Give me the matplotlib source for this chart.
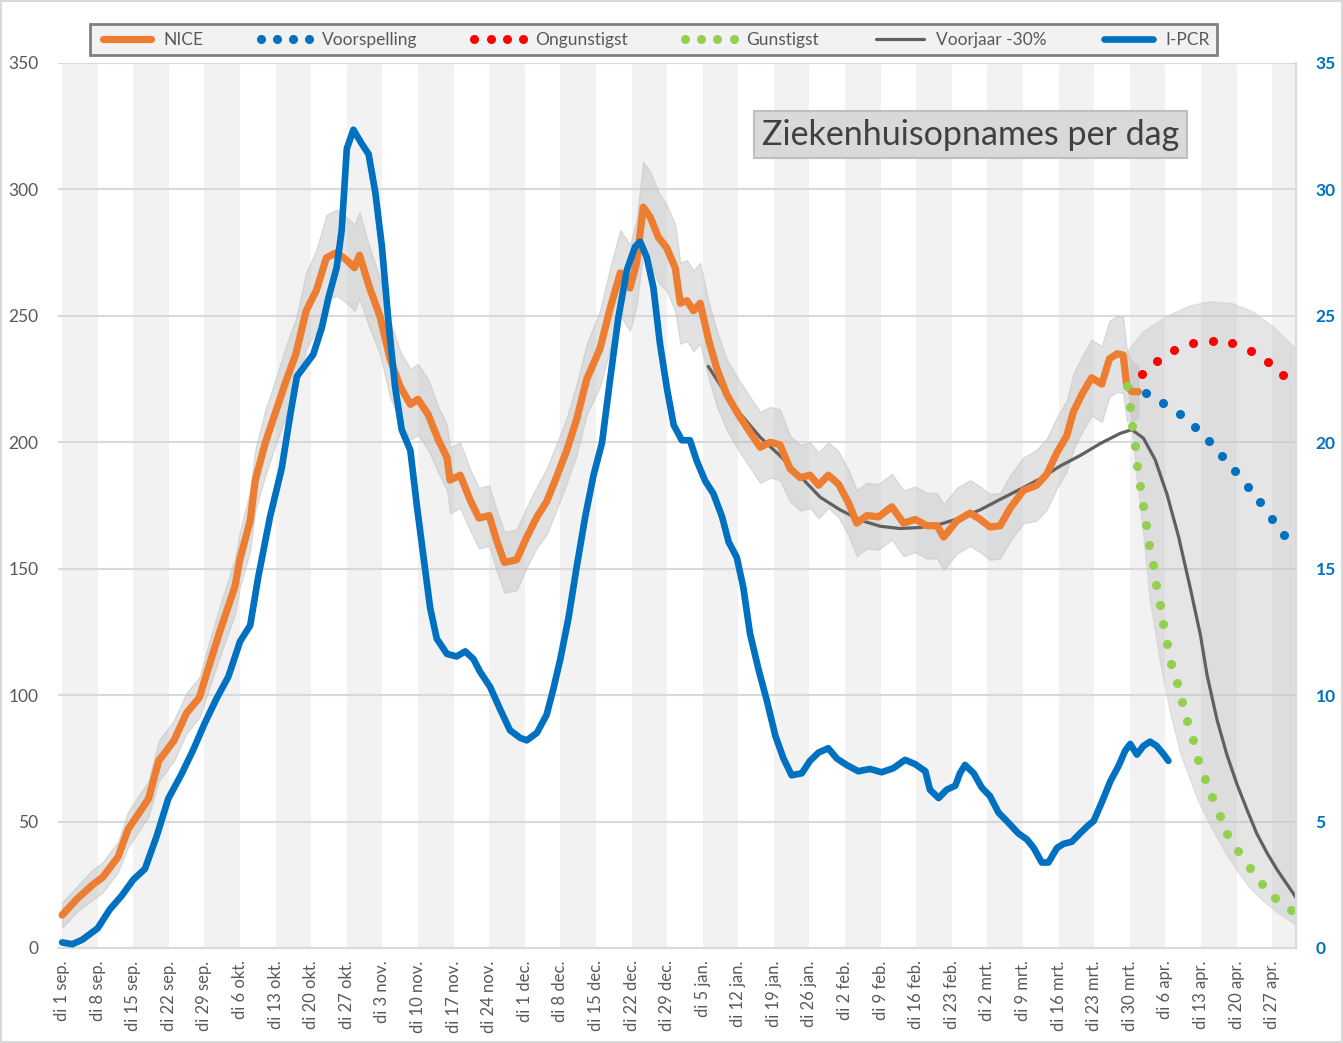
import matplotlib

matplotlib.use("Agg")
import matplotlib.pyplot as plt
from matplotlib.patches import Rectangle

plt.rcParams["font.family"] = ["Lato", "DejaVu Sans"]

# x = days since di 1 sep. 2020
week_labels = [
    "di 1 sep.", "di 8 sep.", "di 15 sep.", "di 22 sep.", "di 29 sep.",
    "di 6 okt.", "di 13 okt.", "di 20 okt.", "di 27 okt.", "di 3 nov.",
    "di 10 nov.", "di 17 nov.", "di 24 nov.", "di 1 dec.", "di 8 dec.",
    "di 15 dec.", "di 22 dec.", "di 29 dec.", "di 5 jan.", "di 12 jan.",
    "di 19 jan.", "di 26 jan.", "di 2 feb.", "di 9 feb.", "di 16 feb.",
    "di 23 feb.", "di 2 mrt.", "di 9 mrt.", "di 16 mrt.", "di 23 mrt.",
    "di 30 mrt.", "di 6 apr.", "di 13 apr.", "di 20 apr.", "di 27 apr.",
]

# NICE opnames per dag (linker as) + breedte van de grijze band
nice_day = [0, 3, 6, 8, 11, 13, 17, 19, 22, 24.5,
            27, 28.5, 31, 34, 35, 37, 38, 40, 42, 44,
            46, 48, 50, 52, 54, 56, 57.5, 58.5, 60.5, 62.5,
            64.5, 66.5, 68.5, 70, 72, 74, 75.7, 76.3, 78.3, 80.3,
            82, 84, 85.5, 87, 89.4, 91.4, 93.4, 95.3, 97.3, 99.3,
            101.2, 103.2, 105.8, 107.8, 109.8, 111.7, 113, 114.3, 115.7, 117.3,
            118.9, 120.6, 121.6, 122.9, 124.2, 125.5, 127.1, 128.8, 130.7, 133,
            135.3, 137.3, 139.3, 141.2, 143.2, 145.2, 147.1, 148.8, 150.7, 152.7,
            154.7, 156.3, 158.3, 160.6, 163.2, 165.5, 167.8, 170.1, 172.1, 173.4,
            176, 178.6, 180.6, 182.5, 184.5, 186.5, 189.1, 191.7, 193.7, 195.7,
            197.6, 198.9, 200.6, 202.5, 204.5, 206, 207.5, 208.7, 209.4, 210.4, 211.7]
nice_val = [13, 19.5, 25, 28, 36, 47, 59, 74, 82, 93,
            99, 109, 125, 143, 154, 169, 185, 200, 212, 224,
            235, 252, 260, 273, 275, 272, 269, 274, 261, 250,
            233, 222, 215, 217, 211, 201, 194, 185, 187, 177,
            170, 171, 161, 152.5, 153.5, 162.5, 170.5, 176.5, 186.5, 197,
            209, 225, 237, 253, 267, 261, 271, 293, 289, 281,
            277, 269, 255, 256, 252, 255, 241, 229, 219, 211,
            204, 198, 200, 199, 189.5, 186, 187, 183, 187, 183.5,
            176, 168, 171, 170.5, 174.5, 168, 169.5, 167, 167, 162.5,
            169, 172, 169.5, 166.5, 167, 174, 181, 183, 187.5, 196,
            202.5, 212, 219, 225.5, 223, 233, 235, 234.5, 222.5, 220, 220]
nice_hw = [5, 5, 6, 6, 6, 7, 7, 8, 8, 8,
           8, 9, 10, 11, 11, 12, 12, 13, 13, 14,
           14, 15, 16, 17, 17, 17, 17, 17, 16, 15,
           15, 14, 14, 14, 14, 13, 13, 13, 13, 12,
           12, 12, 12, 12, 12, 12, 12, 13, 13, 13,
           14, 14, 15, 16, 17, 17, 17, 18, 18, 18,
           17, 17, 16, 16, 16, 16, 15, 15, 14, 14,
           14, 14, 14, 14, 13, 13, 13, 13, 13, 13,
           13, 13, 13, 13, 13, 13, 13, 13, 13, 13,
           13, 13, 13, 13, 13, 13, 13, 14, 14, 14,
           14, 15, 15, 15, 15, 15, 15, 15, 14, 12, 10]

# I-PCR (rechter as)
pcr_day = [0, 2, 4, 7, 9.4, 11.7, 14, 16.3, 18.6, 20.9,
           23.5, 25.8, 28.1, 30.4, 32.7, 35, 37, 38.6, 40.9, 43.2,
           44.9, 46.2, 47.8, 49.4, 51.1, 52.4, 54, 55, 56, 57.3,
           58.9, 60.3, 61.6, 62.9, 64.2, 65.5, 66.8, 68.5, 69.8, 71.1,
           72.4, 73.7, 75.7, 77.6, 79.3, 80.9, 82.2, 84.2, 86.2, 88.1,
           90.1, 91.4, 93.4, 95.3, 96.6, 98, 99.6, 101.2, 102.9, 104.5,
           106.2, 107.8, 109.4, 111.1, 112.7, 113.7, 115, 116.3, 117.6, 119,
           120.3, 121.9, 123.5, 124.8, 126.5, 128.1, 129.8, 131.1, 132.7, 134,
           135.3, 137, 138.6, 140.3, 141.9, 143.5, 145.5, 147.1, 148.8, 150.7,
           152.4, 154.3, 156.6, 158.9, 161.2, 163.5, 165.8, 167.8, 169.8, 170.7,
           172.4, 174, 175.7, 176.6, 177.6, 179.3, 180.9, 182.5, 184.2, 186.2,
           188.1, 189.8, 191.1, 192.7, 194, 195.7, 197, 198.6, 200.2, 201.9,
           202.9, 204.5, 206.2, 207.8, 209.1, 210.1, 211.4, 212.7, 214, 215.3,
           216.7, 217.6]
pcr_val = [0.22, 0.15, 0.33, 0.78, 1.53, 2.06, 2.70, 3.13, 4.42, 5.91,
           6.88, 7.84, 8.91, 9.87, 10.73, 12.12, 12.76, 14.69, 17.05, 18.97,
           21.11, 22.61, 23.04, 23.47, 24.54, 25.72, 26.9, 28.39, 31.61, 32.36,
           31.82, 31.39, 29.89, 27.75, 24.75, 22.19, 20.5, 19.68, 17.46, 15.45,
           13.44, 12.23, 11.63, 11.53, 11.73, 11.43, 10.93, 10.32, 9.42, 8.61,
           8.31, 8.21, 8.51, 9.22, 10.22, 11.43, 13.04, 15.05, 17.06, 18.67,
           19.98, 22.5, 24.91, 26.82, 27.73, 27.93, 27.32, 26.12, 23.9, 22.09,
           20.68, 20.08, 20.08, 19.28, 18.47, 17.97, 17.06, 16.06, 15.45, 14.25,
           12.44, 11.0, 9.8, 8.39, 7.49, 6.83, 6.91, 7.4, 7.73, 7.9,
           7.49, 7.24, 6.99, 7.08, 6.95, 7.11, 7.44, 7.27, 6.99, 6.26,
           5.93, 6.26, 6.42, 6.91, 7.24, 6.91, 6.34, 6.01, 5.35, 4.94,
           4.53, 4.29, 3.96, 3.38, 3.38, 3.96, 4.12, 4.2, 4.53, 4.86,
           5.02, 5.76, 6.6, 7.2, 7.8, 8.07, 7.65, 7.99, 8.16, 7.99,
           7.65, 7.4]

# Voorjaar -30%
vj_day = [127.1, 130, 133.5, 137.3, 141.2, 145.2, 149.1, 153.0, 157.0, 160.9,
          164.8, 168.8, 172.7, 176.6, 180.6, 184.5, 188.5, 192.4, 196.3, 200.2,
          204.2, 208.1, 210.4, 212.7, 215.0, 217.3, 219.6, 221.9, 223.9, 225.2,
          227.2, 229.1, 231.1, 233.1, 235.0, 237.0, 239.0, 241.0, 242.7]
vj_val = [230, 221, 211, 202, 194.7, 186.5, 178.3, 173.3, 169.2, 166.8,
          165.9, 166.3, 167.6, 170.0, 173.3, 177.4, 181.5, 185.6, 190.6, 194.7,
          199.5, 203.5, 205.0, 201.6, 193.1, 179.6, 162.7, 142.4, 123.8, 108,
          90.0, 76.5, 64.7, 54.5, 45.2, 37.6, 30.9, 25.0, 20]

# scenario's
vs_day = [213.2, 216.6, 219.8, 222.8, 225.6, 228.2, 230.7, 233.3, 235.6, 238.0, 240.4]
vs_val = [219.3, 215.6, 211.0, 205.9, 200.5, 194.5, 188.5, 182.5, 176.2, 169.8, 163.4]
ong_day = [212.4, 215.4, 218.7, 222.4, 226.3, 230.1, 233.8, 237.2, 240.1]
ong_val = [227.2, 232.1, 236.5, 239.1, 240.0, 239.1, 236.1, 231.8, 226.8]
gun_day = [209.4, 210.0, 210.4, 211.0, 211.5, 212.1, 212.6, 213.2, 213.8, 214.5,
           215.2, 215.9, 216.6, 217.4, 218.2, 219.2, 220.2, 221.2, 222.4, 223.5,
           224.8, 226.2, 227.7, 229.2, 231.3, 233.6, 236.0, 238.6, 241.7]
gun_val = [222.2, 214.1, 206.3, 198.5, 190.6, 182.6, 174.9, 167.1, 159.3, 151.4,
           143.6, 135.7, 128.1, 120.1, 112.3, 104.9, 97.3, 89.7, 82.1, 74.5,
           67.0, 59.6, 52.3, 45.1, 38.3, 31.6, 25.5, 19.9, 15.2]

# onzekerheidsband scenario's
fc_up_day = [209.5, 212.7, 217.3, 221.9, 225.8, 230.4, 234.4, 238.3, 242.7]
fc_up_val = [236, 243.8, 249.7, 254, 255.6, 254.8, 251.4, 245.5, 237]
fc_lo_day = [209.5, 210.5, 211.5, 212.5, 214, 216, 218, 220, 223.4, 226,
             229, 232, 234, 236, 239, 242.7]
fc_lo_val = [226, 205, 185, 168, 138, 113, 93, 77, 58.5, 48,
             37, 28, 23, 19, 14, 9]

ORANGE = "#ed7d31"
BLUE = "#0070c0"
TXT = "#595959"

fig = plt.figure(figsize=(13.43, 10.43), dpi=100)
ax = fig.add_axes([0.0432, 0.0911, 0.9218, 0.8485])
ax.set_xlim(-0.8, 242.7)
ax.set_ylim(0, 350)

# afwisselende weken
for k in range(0, len(week_labels), 2):
    ax.axvspan(7 * k, 7 * k + 7, color="#f2f2f2", lw=0, zorder=0)

ax.set_axisbelow(True)
ax.yaxis.grid(True, color="#d9d9d9", lw=1.5)
ax.set_yticks(range(0, 351, 50))

lo = [v - h for v, h in zip(nice_val, nice_hw)]
hi = [v + h for v, h in zip(nice_val, nice_hw)]
ax.fill_between(nice_day, lo, hi, color="#bfbfbf", alpha=0.45, lw=1, zorder=1)
ax.fill(fc_up_day + fc_lo_day[::-1], fc_up_val + fc_lo_val[::-1],
        color="#bfbfbf", alpha=0.4, ec="#c8c8c8", lw=1, zorder=1)

h_vj, = ax.plot(vj_day, vj_val, color="#606060", lw=2.3, zorder=3,
                solid_capstyle="round", label="Voorjaar -30%")
h_nice, = ax.plot(nice_day, nice_val, color=ORANGE, lw=5.2, zorder=4,
                  solid_joinstyle="round", solid_capstyle="round", label="NICE")
h_vs, = ax.plot(vs_day, vs_val, ls="none", marker="o", ms=6.5, mew=0,
                color=BLUE, zorder=5, label="Voorspelling")
h_ong, = ax.plot(ong_day, ong_val, ls="none", marker="o", ms=6.5, mew=0,
                 color="#ff0000", zorder=5, label="Ongunstigst")
h_gun, = ax.plot(gun_day, gun_val, ls="none", marker="o", ms=6.5, mew=0,
                 color="#92d050", zorder=5, label="Gunstigst")

ax.set_xticks(range(0, 7 * len(week_labels), 7))
ax.set_xticklabels(week_labels, rotation=90, fontsize=12, color=TXT)
ax.tick_params(axis="x", length=0, pad=9)
ax.tick_params(axis="y", length=0, pad=14, labelsize=12.5, labelcolor=TXT)
for s in ["top", "left"]:
    ax.spines[s].set_visible(False)
ax.spines["bottom"].set_color("#d9d9d9")
ax.spines["bottom"].set_linewidth(1.5)
ax.spines["right"].set_color("#d9d9d9")

ax2 = ax.twinx()
ax2.set_ylim(0, 35)
ax2.set_yticks(range(0, 36, 5))
h_pcr, = ax2.plot(pcr_day, pcr_val, color=BLUE, lw=4.8,
                  solid_joinstyle="round", solid_capstyle="round", label="I-PCR")
ax2.tick_params(axis="y", length=0, pad=14, labelsize=12.5, labelcolor=BLUE)
for t in ax2.get_yticklabels():
    t.set_fontweight("bold")
for s in ["top", "left", "bottom"]:
    ax2.spines[s].set_visible(False)
ax2.spines["right"].set_color("#d9d9d9")
ax2.spines["right"].set_linewidth(1.5)

ax.text(0.737, 0.919, "Ziekenhuisopnames per dag", transform=ax.transAxes,
        ha="center", va="center", fontsize=24.5, color="#404040", zorder=6,
        bbox=dict(boxstyle="square,pad=0.22", fc="#d9d9d9", ec="#bfbfbf", lw=1.5))

handles = [h_nice, h_vs, h_ong, h_gun, h_vj, h_pcr]
leg = fig.legend(handles, [h.get_label() for h in handles], loc="center",
                 bbox_to_anchor=(0.4866, 0.962), ncol=6, fontsize=12.5,
                 frameon=True, fancybox=False, edgecolor="#808080",
                 facecolor="#f2f2f2", framealpha=1, handlelength=3.4,
                 handletextpad=0.4, columnspacing=3.0, numpoints=4,
                 borderpad=0.45)
leg.get_frame().set_linewidth(2)
for t in leg.get_texts():
    t.set_color(TXT)

fig.patches.append(Rectangle((0.001, 0.001), 0.998, 0.998, transform=fig.transFigure,
                             fill=False, ec="#d9d9d9", lw=1.5))

fig.savefig("out.png", dpi=100)
